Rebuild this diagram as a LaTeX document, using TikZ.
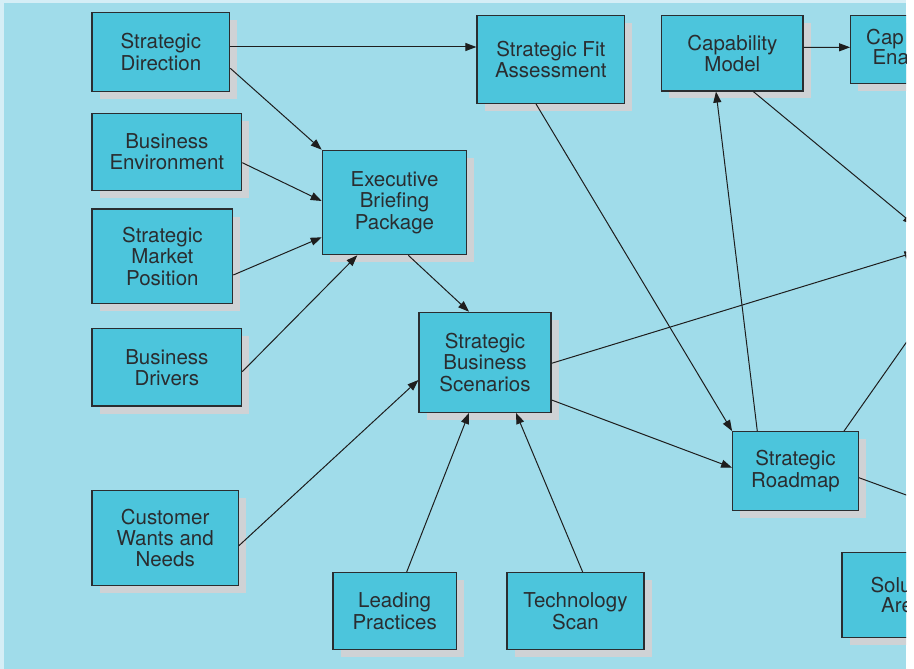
\documentclass[tikz,border=0pt]{standalone}
\usepackage{fontspec}
\setmainfont{TeX Gyre Heros}
\usetikzlibrary{arrows.meta,shadows}
\definecolor{bgblue}{HTML}{A0DCEA}
\definecolor{edgeblue}{HTML}{D5EEF6}
\definecolor{boxblue}{HTML}{4CC5DC}
\definecolor{shadowgray}{HTML}{CFD2D5}
\definecolor{inkdark}{HTML}{2A2D30}
\definecolor{linedark}{HTML}{1E1E1E}
\begin{document}
\begin{tikzpicture}[x=1pt,y=-1pt,
  box/.style={draw=inkdark, line width=1.2pt, fill=boxblue, inner sep=0pt,
    align=center, text=inkdark, font=\fontsize{20.5}{21.3}\selectfont,
    drop shadow={shadow xshift=7.5pt, shadow yshift=-7.5pt, fill=shadowgray, opacity=1, draw=none}},
  cuttext/.style={inner sep=0pt, anchor=base west, text=inkdark, font=\fontsize{20.5}{21.3}\selectfont},
  conn/.style={draw=linedark, line width=1pt},
  arr/.style={conn, -{Triangle[length=11pt,width=8pt]}}
]
\useasboundingbox (0,0) rectangle (914,669);
\fill[edgeblue] (0,0) rectangle (906,669);
\fill[bgblue] (4,3) rectangle (906,669);
\fill[white] (906,0) rectangle (914,669);
\begin{scope}
\clip (0,0) rectangle (906,669);
% boxes
\node[box, minimum width=137.7pt, minimum height=78.6pt] (dir) at (160.85,52) {Strategic\\Direction};
\node[box, minimum width=147.7pt, minimum height=87.6pt] (fit) at (550.85,59.5) {Strategic Fit\\Assessment};
\node[box, minimum width=141.3pt, minimum height=75.3pt] (cap) at (732.35,53.35) {Capability\\Model};
\node[box, minimum width=140pt, minimum height=67.6pt] (capena) at (920.7,49.5) {};
\node[cuttext] (capt1) at (866,44.3) {Cap};
\node[cuttext] (capt2) at (872.3,65) {Ena};
\node[box, minimum width=149.7pt, minimum height=77.4pt] (env) at (166.85,152) {Business\\Environment};
\node[box, minimum width=140.7pt, minimum height=94.7pt] (smp) at (162.35,256.35) {Strategic\\Market\\Position};
\node[box, minimum width=149.7pt, minimum height=77.3pt] (drv) at (166.85,367.35) {Business\\Drivers};
\node[box, minimum width=144.4pt, minimum height=104.4pt] (ebp) at (394.5,202.5) {Executive\\Briefing\\Package};
\node[box, minimum width=132pt, minimum height=100pt] (sbs) at (485,362.3) {Strategic\\Business\\Scenarios};
\node[box, minimum width=125.6pt, minimum height=78.6pt] (road) at (795.5,471) {Strategic\\Roadmap};
\node[box, minimum width=146.3pt, minimum height=94.6pt] (cust) at (165.15,538) {Customer\\Wants and\\Needs};
\node[box, minimum width=123.3pt, minimum height=77pt] (lead) at (394.65,611.2) {Leading\\Practices};
\node[box, minimum width=137pt, minimum height=77pt] (tech) at (575.5,611.2) {Technology\\Scan};
\node[box, minimum width=140pt, minimum height=85.4pt] (solu) at (912,595) {};
\node[cuttext] (solt1) at (870.3,592.3) {Solu};
\node[cuttext] (solt2) at (881,612.3) {Are};
% off-page ends
\coordinate (offA) at (915.5,252.1);
\coordinate (offB) at (914,224.7);
\coordinate (offC) at (930,308.7);
\coordinate (offD) at (930,503.7);
% connectors
\draw[arr] ([yshift=5pt]dir.east) -- ([yshift=12.5pt]fit.west);
\draw[arr] ([yshift=-16.3pt]dir.east) -- (ebp.north west);
\draw[arr] ([yshift=-10.7pt]env.east) -- ([yshift=1.5pt]ebp.west);
\draw[arr] ([yshift=-18.65pt]smp.east) -- ([yshift=-34.8pt]ebp.west);
\draw[arr] ([yshift=-4.3pt]drv.east) -- ([xshift=-37.2pt]ebp.south);
\draw[arr] ([xshift=13.8pt]ebp.south) -- ([xshift=-16pt]sbs.north);
\draw[arr] ([yshift=-7.7pt]cust.east) -- ([yshift=-17.7pt]sbs.west);
\draw[arr] ([xshift=12pt]lead.north) -- ([xshift=-16pt]sbs.south);
\draw[arr] ([xshift=7.2pt]tech.north) -- ([xshift=31pt]sbs.south);
\draw[arr] ([yshift=-1pt]sbs.east) -- (offA);
\draw[arr] ([yshift=-37.7pt]sbs.east) -- ([yshift=3.3pt]road.west);
\draw[arr] ([xshift=-14.85pt]fit.south) -- (road.north west);
\draw[arr] ([xshift=-38.2pt]road.north) -- ([xshift=-16.35pt]cap.south);
\draw[arr] ([xshift=21pt]cap.south) -- (offB);
\draw[arr] ([yshift=6pt]cap.east) -- ([yshift=2.2pt]capena.west);
\draw[conn] ([xshift=48.5pt]road.north) -- (offC);
\draw[conn] ([yshift=-6.7pt]road.east) -- (offD);
\end{scope}
\end{tikzpicture}
\end{document}
